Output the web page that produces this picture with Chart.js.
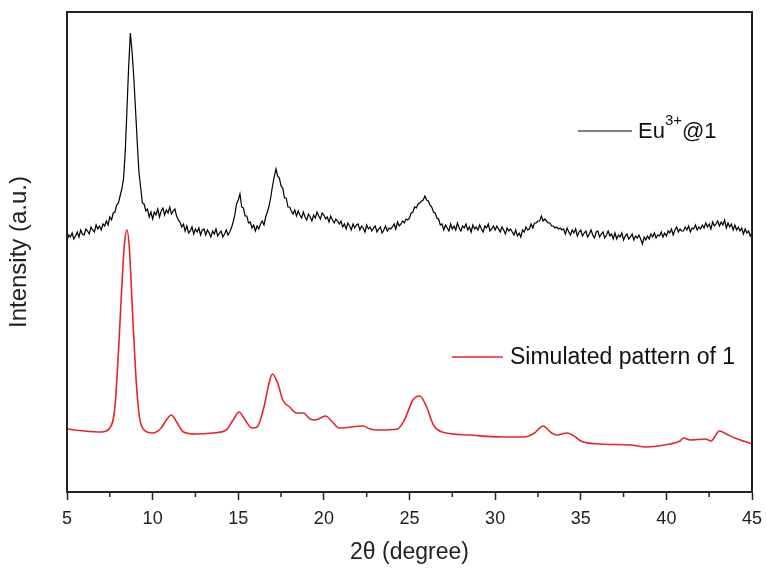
<!DOCTYPE html>
<html>
<head>
<meta charset="utf-8">
<script src="https://cdn.jsdelivr.net/npm/chart.js@4"></script>
<style>
  html, body { margin: 0; padding: 0; background: #fff; }
  #wrap { width: 767px; height: 570px; }
</style>
</head>
<body>
<div id="wrap"><canvas id="xrd"></canvas></div>
<script>
// measured pattern Eu3+@1, one value every 0.1 degree from 5 to 45 (rows = 1 degree)
const euStart = 5;
const euStep = 0.1;
const euValues = [
  251,257,255,259,253,256,260,255,262,258,
  257,263,261,258,265,262,260,267,263,266,
  262,268,266,271,267,275,272,279,280,287,
  289,296,303,313,340,382,425,459,440,415,
  383,350,320,305,289,288,281,283,275,280,
  273,280,277,283,275,281,284,277,282,279,
  285,278,281,283,276,272,270,265,268,261,
  266,259,261,265,258,263,260,264,257,262,
  263,257,262,259,255,261,258,263,256,259,
  261,255,258,262,257,260,264,270,277,288,
  292,298,285,284,276,276,269,270,264,267,
  261,266,263,268,271,267,275,280,286,295,
  306,315,323,316,314,306,304,294,294,285,
  285,281,278,282,276,281,277,274,280,275,
  272,278,275,271,277,274,280,276,273,279,
  277,273,275,270,276,272,269,273,271,268,
  271,265,268,263,269,266,262,268,264,267,
  268,262,266,264,260,267,263,265,261,264,
  266,260,263,265,259,262,266,261,264,263,
  265,268,263,270,266,268,271,269,273,272,
  274,279,280,285,284,288,289,291,292,296,
  292,291,287,285,280,279,274,273,267,268,
  262,267,264,261,268,263,266,262,269,264,
  261,266,264,268,262,265,260,267,263,265,
  262,267,263,260,266,264,268,261,263,266,
  262,266,263,260,265,262,258,264,261,263,
  260,257,262,256,259,255,262,260,265,262,
  263,268,264,269,269,271,271,276,271,273,
  271,269,269,266,266,264,265,263,264,262,
  263,258,264,260,257,262,259,263,256,260,
  262,256,259,261,255,258,262,257,254,260,
  261,255,258,260,254,257,261,256,258,253,
  259,253,257,255,259,252,256,258,253,255,
  258,252,256,254,257,253,248,255,252,256,
  253,258,255,259,254,257,256,260,255,259,
  256,261,259,263,257,262,265,260,263,261,
  261,265,262,266,260,264,263,267,262,265,
  263,267,264,269,265,268,263,270,266,268,
  271,266,270,267,272,264,269,265,268,262,
  267,262,265,261,264,258,263,259,261,256,
  259
];

// simulated pattern of 1
const simX = [5, 6, 7, 7.5, 7.8, 8.0, 8.2, 8.35, 8.5, 8.65, 8.8, 9.0, 9.2, 9.5, 10, 10.5, 10.8, 11.1, 11.4, 11.8,
  12.5, 13.5, 14.3, 14.7, 15.05, 15.4, 15.8, 16.1, 16.5, 16.8, 17.0, 17.3, 17.6, 18.0, 18.4, 18.8, 19.2, 19.5,
  20.1, 20.5, 20.9, 22.3, 22.7, 23.2, 24.3, 24.7, 25.2, 25.6, 26.0, 26.4, 26.9, 28.5, 30.3, 31.7, 32.3, 32.8,
  33.3, 33.6, 34.2, 34.7, 35.0, 36.1, 37.9, 38.8, 40.2, 40.8, 41.0, 41.4, 42.3, 42.6, 43.1, 43.5, 44.0, 45];
const simY = [63, 61, 60, 64, 85, 139, 205, 247, 262, 242, 189, 122, 79, 62, 59, 64, 72, 77, 70, 60,
  58, 59, 62, 72, 80, 72, 64, 65, 85, 109, 118, 109, 92, 85, 79, 79, 73, 72,
  76, 70, 64, 66, 63, 62, 63, 72, 92, 96, 85, 67, 60, 57, 55, 55, 59, 66,
  59, 57, 59, 55, 51, 48, 47, 45, 48, 51, 54, 52, 53, 51, 61, 58, 54, 48];

const xMin = 5, xMax = 45, xStepMinor = 2.5;
const yMin = 0, yMax = 480;

const euData = euValues.map((v, i) => ({ x: +(euStart + i * euStep).toFixed(1), y: v }));
const simData = simX.map((x, i) => ({ x: x, y: simY[i] }));

const FONT = '"Liberation Sans", Arial, sans-serif';
const INK = '#222';

// box, short minor ticks and the in-plot legend
const extras = {
  id: 'extras',
  afterDraw(chart) {
    const ctx = chart.ctx;
    const a = chart.chartArea;
    const xs = chart.scales.x;
    ctx.save();
    ctx.strokeStyle = INK;
    ctx.lineWidth = 2;
    ctx.strokeRect(a.left, a.top, a.right - a.left, a.bottom - a.top);

    ctx.lineWidth = 1.5;
    xs.ticks.forEach(t => {
      if (t.value % 5 !== 0) {
        const px = xs.getPixelForValue(t.value);
        ctx.beginPath();
        ctx.moveTo(px, a.bottom);
        ctx.lineTo(px, a.bottom + 5);
        ctx.stroke();
      }
    });

    // legend entries
    ctx.textBaseline = 'middle';
    ctx.textAlign = 'left';
    ctx.fillStyle = '#111';

    let ly = a.top + 119;
    ctx.strokeStyle = '#000';
    ctx.lineWidth = 1;
    ctx.beginPath();
    ctx.moveTo(a.left + 511, ly);
    ctx.lineTo(a.left + 565, ly);
    ctx.stroke();
    let tx = a.left + 571;
    ctx.font = '22px ' + FONT;
    ctx.fillText('Eu', tx, ly + 1);
    tx += ctx.measureText('Eu').width;
    ctx.font = '15px ' + FONT;
    ctx.fillText('3+', tx, ly - 10);
    tx += ctx.measureText('3+').width;
    ctx.font = '22px ' + FONT;
    ctx.fillText('@1', tx, ly + 1);

    ly = a.top + 345;
    ctx.strokeStyle = '#e3262a';
    ctx.lineWidth = 1.5;
    ctx.beginPath();
    ctx.moveTo(a.left + 385, ly);
    ctx.lineTo(a.left + 436, ly);
    ctx.stroke();
    ctx.font = '23px ' + FONT;
    ctx.fillText('Simulated pattern of 1', a.left + 443, ly + 1);
    ctx.restore();
  }
};

new Chart(document.getElementById('xrd'), {
  type: 'line',
  data: {
    datasets: [
      {
        label: 'Eu3+@1',
        data: euData,
        borderColor: '#000',
        borderWidth: 1.2,
        pointRadius: 0,
        tension: 0
      },
      {
        label: 'Simulated pattern of 1',
        data: simData,
        borderColor: '#e3262a',
        borderWidth: 1.6,
        pointRadius: 0,
        cubicInterpolationMode: 'monotone'
      }
    ]
  },
  options: {
    responsive: true,
    maintainAspectRatio: false,
    animation: false,
    layout: { padding: { top: 12, right: 15, left: 0, bottom: 0 } },
    plugins: { legend: { display: false }, tooltip: { enabled: false } },
    scales: {
      x: {
        type: 'linear',
        min: xMin,
        max: xMax,
        afterFit: s => { s.height = 78; s.paddingLeft = 0; s.paddingRight = 0; },
        ticks: {
          stepSize: xStepMinor,
          autoSkip: false,
          maxRotation: 0,
          padding: 8,
          color: INK,
          font: { family: FONT, size: 18 },
          callback: v => (v % 5 === 0 ? v : '')
        },
        grid: {
          drawOnChartArea: false,
          tickLength: 8,
          tickWidth: 1.5,
          tickColor: c => (c.tick && c.tick.value % 5 === 0 ? INK : 'transparent')
        },
        border: { color: INK, width: 2 },
        title: {
          display: true,
          text: '2θ (degree)',
          color: INK,
          font: { family: FONT, size: 23 },
          padding: { top: 0, bottom: 4 }
        }
      },
      y: {
        min: yMin,
        max: yMax,
        afterFit: s => { s.width = 67; },
        ticks: { display: false },
        grid: { display: false },
        border: { color: INK, width: 2 },
        title: {
          display: true,
          text: 'Intensity (a.u.)',
          color: INK,
          font: { family: FONT, size: 24 },
          padding: { top: 5, bottom: 0 }
        }
      }
    }
  },
  plugins: [extras]
});
</script>
</body>
</html>
